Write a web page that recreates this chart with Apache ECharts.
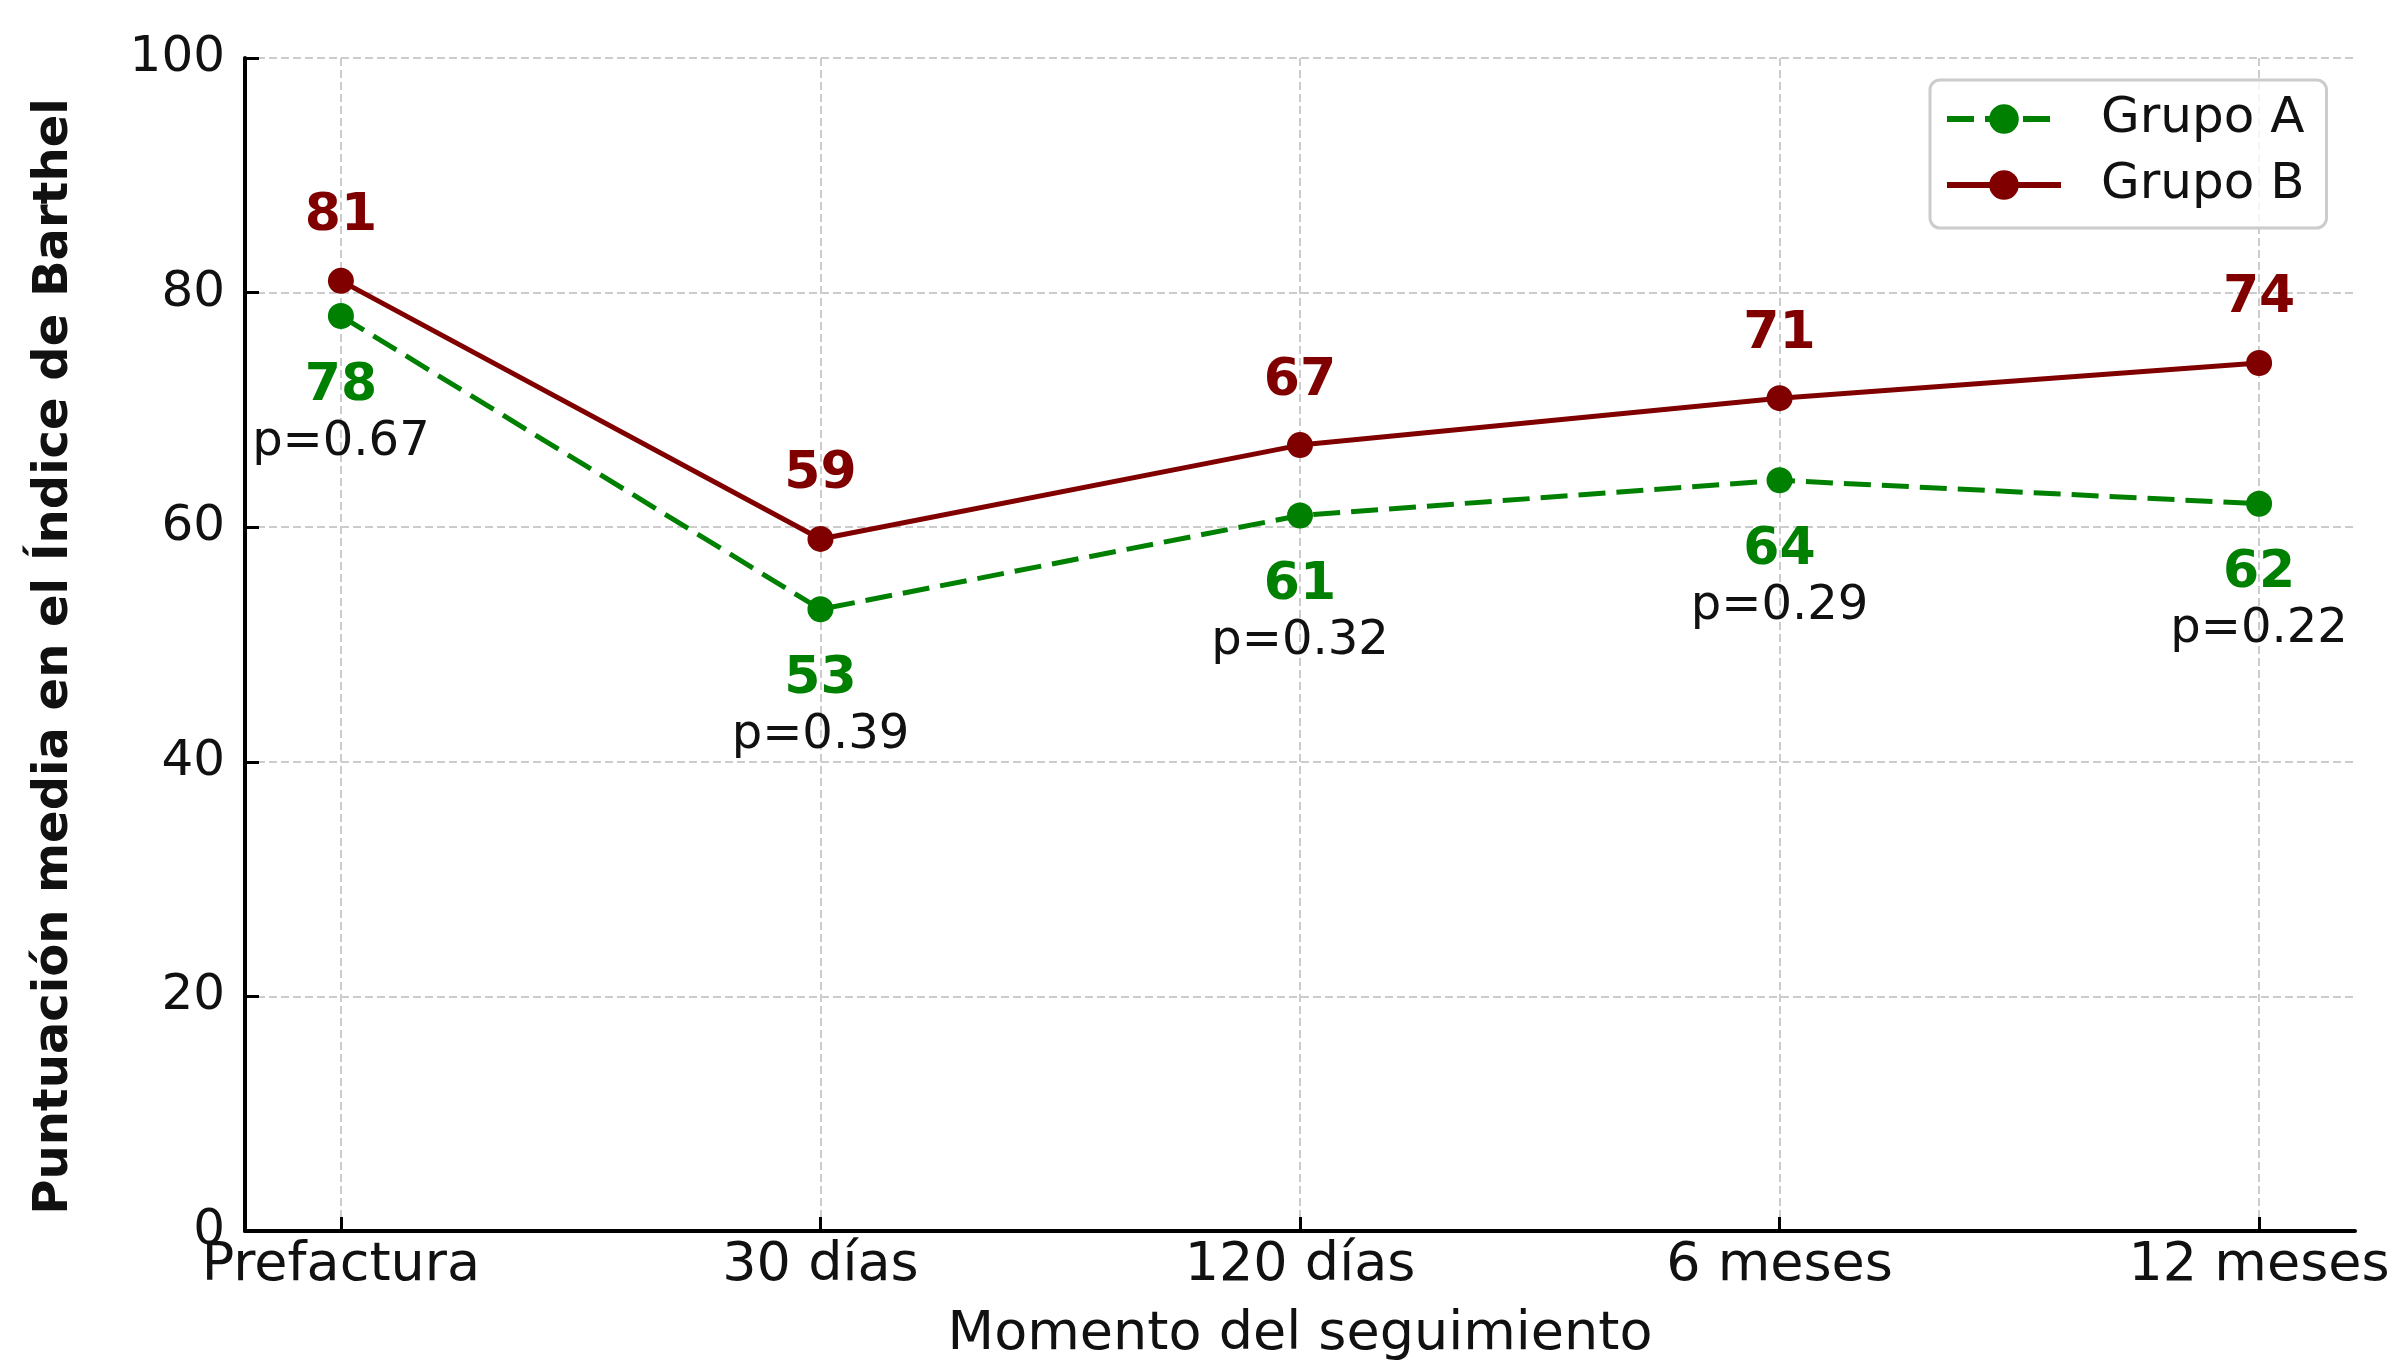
<!DOCTYPE html>
<html><head><meta charset="utf-8">
<script src="https://cdn.jsdelivr.net/npm/echarts@6/dist/echarts.min.js"></script>
<style>html,body{margin:0;padding:0;background:#fff}#c{width:2398px;height:1367px}</style>
</head><body><div id="c"></div>
<script>
const categories = ['Prefactura', '30 días', '120 días', '6 meses', '12 meses'];
const grupoA = [78, 53, 61, 64, 62];
const grupoB = [81, 59, 67, 71, 74];
const pValues = ['0.67', '0.39', '0.32', '0.29', '0.22'];
const xIdx = categories.map((_, i) => i);

const FONT = 'DejaVu Sans';
const GREEN = '#008000';
const MAROON = '#800000';
const GRID_LINE = { show: true, lineStyle: { color: '#cccccc', width: 2, type: [8, 4] } };

const chart = echarts.init(document.getElementById('c'), null, { renderer: 'canvas' });
chart.setOption({
  backgroundColor: '#ffffff',
  animation: false,
  textStyle: { fontFamily: FONT },
  grid: { left: 245, right: 43, top: 58, bottom: 135, containLabel: false },
  legend: {
    left: 1930, top: 80, orient: 'vertical',
    padding: [14, 22, 18, 14],
    itemWidth: 114, itemHeight: 37, itemGap: 16,
    backgroundColor: 'rgba(255,255,255,0.8)',
    borderColor: '#cccccc', borderWidth: 3, borderRadius: 10,
    lineStyle: { width: 6 },
    textStyle: { fontFamily: FONT, fontSize: 50, color: '#111', padding: [0, 0, 0, 35] },
    data: ['Grupo A', 'Grupo B']
  },
  xAxis: {
    type: 'value', min: -0.2, max: 4.2,
    name: 'Momento del seguimiento', nameLocation: 'middle', nameGap: 77,
    nameTextStyle: { fontFamily: FONT, fontSize: 54, color: '#111' },
    axisLine: { show: true, onZero: false, lineStyle: { color: '#000', width: 4 } },
    axisTick: { show: true, inside: true, length: 14, lineStyle: { color: '#000', width: 3 }, customValues: xIdx },
    axisLabel: { customValues: xIdx, formatter: v => categories[Math.round(v)] || '', margin: 8, fontFamily: FONT, fontSize: 54, color: '#111' },
    splitLine: GRID_LINE
  },
  yAxis: {
    type: 'value', min: 0, max: 100, interval: 20,
    name: 'Puntuación media en el Índice de Barthel', nameLocation: 'middle', nameGap: 166,
    nameTextStyle: { fontFamily: FONT, fontSize: 48, fontWeight: 'bold', color: '#111', padding: [0, 24, 0, 0] },
    axisLine: { show: true, onZero: false, lineStyle: { color: '#000', width: 4 } },
    axisTick: { show: true, inside: true, length: 14, lineStyle: { color: '#000', width: 3 } },
    axisLabel: { margin: 20, fontFamily: FONT, fontSize: 50, color: '#111' },
    splitLine: GRID_LINE
  },
  series: [
    {
      name: 'Grupo A', type: 'line',
      data: grupoA.map((v, i) => [xIdx[i], v]),
      symbol: 'circle', symbolSize: 26, showAllSymbol: true,
      itemStyle: { color: GREEN },
      lineStyle: { color: GREEN, width: 5, type: [27, 11] },
      label: {
        show: true, position: 'inside', offset: [0, 98],
        formatter: p => '{v|' + p.value[1] + '}\n{p|p=' + pValues[p.dataIndex] + '}',
        rich: {
          v: { fontFamily: FONT, fontSize: 52, fontWeight: 'bold', color: GREEN, lineHeight: 56, align: 'center' },
          p: { fontFamily: FONT, fontSize: 48, color: '#111', lineHeight: 56, align: 'center' }
        }
      }
    },
    {
      name: 'Grupo B', type: 'line',
      data: grupoB.map((v, i) => [xIdx[i], v]),
      symbol: 'circle', symbolSize: 26, showAllSymbol: true,
      itemStyle: { color: MAROON },
      lineStyle: { color: MAROON, width: 5, type: 'solid' },
      label: {
        show: true, position: 'inside', offset: [0, -64],
        formatter: p => String(p.value[1]),
        fontFamily: FONT, fontSize: 52, fontWeight: 'bold', color: MAROON
      }
    }
  ]
});
</script></body></html>
